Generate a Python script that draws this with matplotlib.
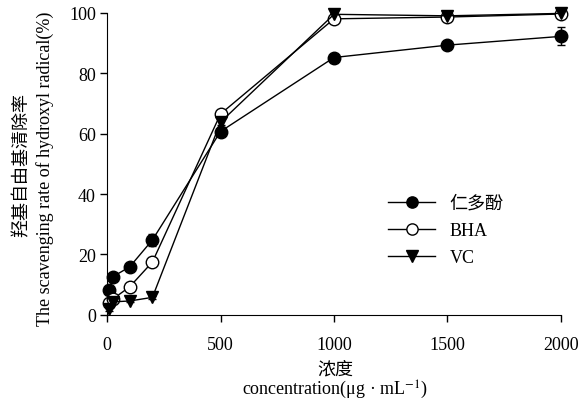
import matplotlib
matplotlib.use("Agg")
import matplotlib.pyplot as plt

# concentration (ug/mL)
conc = [10, 25, 100, 200, 500, 1000, 1500, 2000]

# scavenging rate (%)
rdf = [8.2, 12.6, 15.9, 24.8, 60.7, 85.2, 89.3, 92.2]
rdf_err = [0.8, 1.0, 1.0, 2.0, 1.5, 1.0, 1.0, 3.0]
bha = [4.0, 5.2, 9.3, 17.5, 66.5, 98.0, 98.6, 99.6]
bha_err = [0.5, 0.5, 0.8, 1.0, 1.0, 0.8, 0.8, 0.8]
vc = [1.8, 4.3, 4.6, 5.8, 63.8, 99.5, 99.0, 99.8]
vc_err = [0.5, 0.5, 0.5, 0.5, 1.0, 0.5, 0.5, 0.5]

series_names = ["仁多酚", "BHA", "VC"]
x_ticks = [0, 500, 1000, 1500, 2000]
y_ticks = [0, 20, 40, 60, 80, 100]

serif = ["Liberation Serif", "Noto Sans CJK SC"]
cjk = ["Noto Sans CJK SC", "Liberation Serif"]
plt.rcParams['font.family'] = serif
plt.rcParams['font.size'] = 13
plt.rcParams['mathtext.fontset'] = 'stix'

fig = plt.figure(figsize=(5.88, 4.06), dpi=100)
ax = fig.add_axes([0.182, 0.222, 0.772, 0.744])

common = dict(color="black", lw=1.0, markersize=9, capsize=3, elinewidth=1.0,
              capthick=1.0, clip_on=False, zorder=3)
c1 = ax.errorbar(conc, rdf, yerr=rdf_err, marker="o", mfc="black", mec="black", **common)
c2 = ax.errorbar(conc, bha, yerr=bha_err, marker="o", mfc="white", mec="black", **common)
c3 = ax.errorbar(conc, vc, yerr=vc_err, marker="v", mfc="black", mec="black", **common)

ax.set_xlim(0, 2000)
ax.set_ylim(0, 100)
ax.set_xticks(x_ticks)
ax.set_yticks(y_ticks)
ax.spines['top'].set_visible(False)
ax.spines['right'].set_visible(False)
ax.tick_params(direction="out", length=5, width=1, labelsize=13)
ax.tick_params(axis="x", pad=10)
ax.tick_params(axis="y", pad=3)

# y label, two lines
fig.text(0.037, 0.594, "羟基自由基清除率", rotation=90, ha="center", va="center",
         family=cjk, fontsize=13)
fig.text(0.077, 0.585, "The scavenging rate of hydroxyl radical(%)", rotation=90,
         ha="center", va="center", fontsize=13)

# x label, two lines
fig.text(0.57, 0.089, "浓度", ha="center", va="center", family=cjk, fontsize=13)
fig.text(0.57, 0.039, r"concentration(μg · mL$^{-1}$)", ha="center", va="center",
         fontsize=13)

leg = ax.legend([c1[0], c2[0], c3[0]], series_names, loc="upper left",
                bbox_to_anchor=(0.6, 0.43), frameon=False, borderpad=0,
                handlelength=2.6, fontsize=13, labelspacing=0.55, markerscale=0.9)
for t in leg.get_texts():
    t.set_family(cjk if t.get_text() == series_names[0] else serif)

fig.savefig("out.png", dpi=100)
